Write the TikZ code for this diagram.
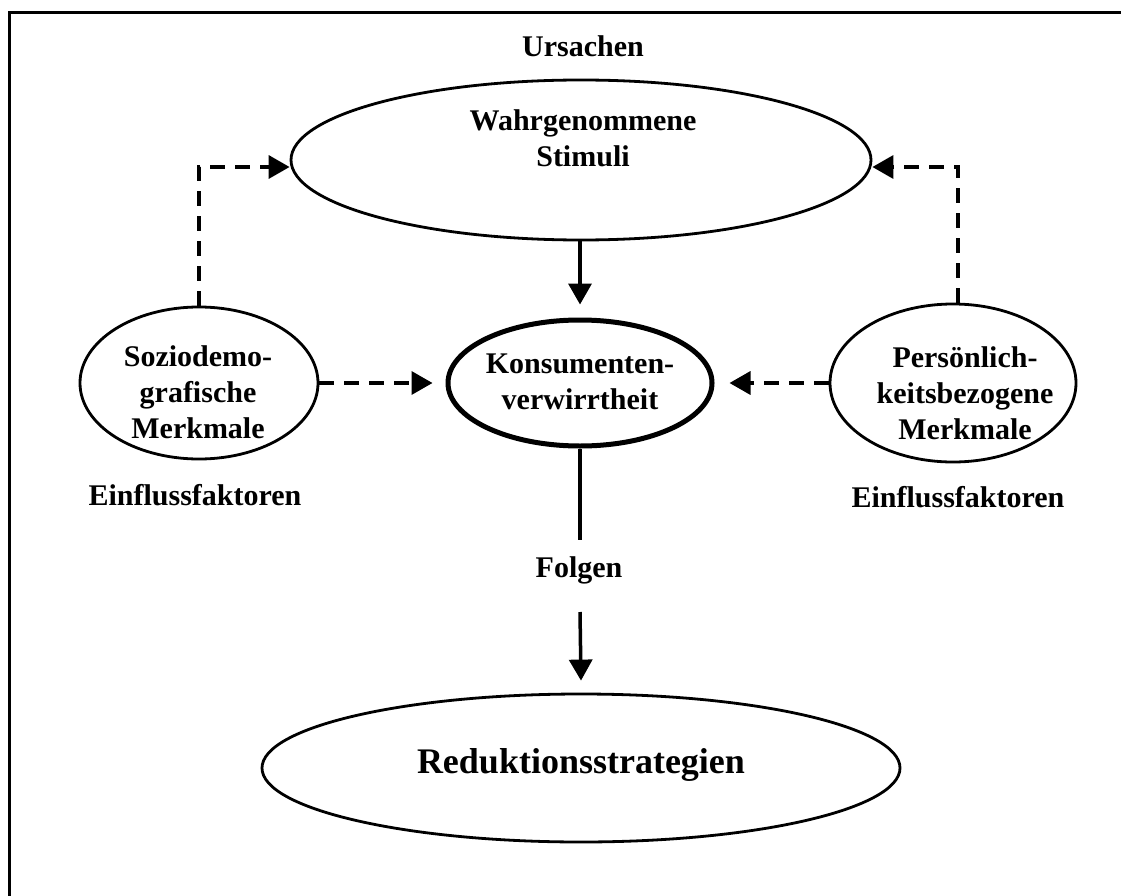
\documentclass[tikz,border=0pt]{standalone}
\usepackage{fontspec}
\setmainfont{Liberation Serif}
\usetikzlibrary{shapes.geometric,arrows.meta}
\begin{document}
\begin{tikzpicture}[x=1pt,y=-1pt,
  every node/.style={font=\fontsize{30}{36}\selectfont\bfseries, inner sep=0pt, align=center},
  oval/.style={draw, ellipse, line width=2.8pt, inner sep=0pt},
  arr/.style={line width=3.5pt, -{Triangle[length=21pt,width=23pt]}},
  darr/.style={arr, dash pattern=on 15pt off 10pt},
]
\useasboundingbox (0,0) rectangle (1121,896);
\draw[line width=2.8pt] (9.5,896) -- (9.5,12.5) -- (1121,12.5);

\node[anchor=base] (urs) at (583,57) {Ursachen};

\node[oval, minimum width=580pt, minimum height=160pt] (wahr) at (581,160) {};
\node (wahrtxt) at (583,138) {Wahrgenommene\\Stimuli};

\node[oval, line width=5pt, minimum width=264pt, minimum height=126pt] (konsum) at (580,383) {};
\node (konsumtxt) at (580,382) {Konsumenten-\\verwirrtheit};

\node[oval, minimum width=238pt, minimum height=152pt] (sozio) at (199,383) {};
\node (soziotxt) at (198,392) {Soziodemo-\\grafische\\Merkmale};

\node[oval, minimum width=246pt, minimum height=158pt] (pers) at (953,383) {};
\node (perstxt) at (965,393) {Persönlich-\\keitsbezogene\\Merkmale};

\node[anchor=base] (einl) at (195,505) {Einflussfaktoren};
\node[anchor=base] (einr) at (958,507) {Einflussfaktoren};

\node[anchor=base] (folgen) at (579,577) {Folgen};

\node[oval, minimum width=638pt, minimum height=148pt] (reduk) at (581,768) {};
\node[font=\fontsize{36}{42}\selectfont\bfseries] (reduktxt) at (581,765) {Reduktionsstrategien};

\coordinate (f1) at (580,540);
\coordinate (f2) at (580,612);

\draw[arr] (konsum.north |- wahr.south) -- ([yshift=13pt]konsum.north);
\draw[darr] (sozio.north) |- ([yshift=-7pt]wahr.west);
\draw[darr] ([xshift=5pt]pers.north) |- ([yshift=-7pt]wahr.east);
\draw[darr] (sozio.east) -- ([xshift=-13pt]konsum.west);
\draw[darr] (pers.west) -- ([xshift=15pt]konsum.east);
\draw[line width=3.5pt] (konsum.south) -- (f1);
\draw[arr] (f2) -- ([yshift=12pt]reduk.north);
\end{tikzpicture}
\end{document}
